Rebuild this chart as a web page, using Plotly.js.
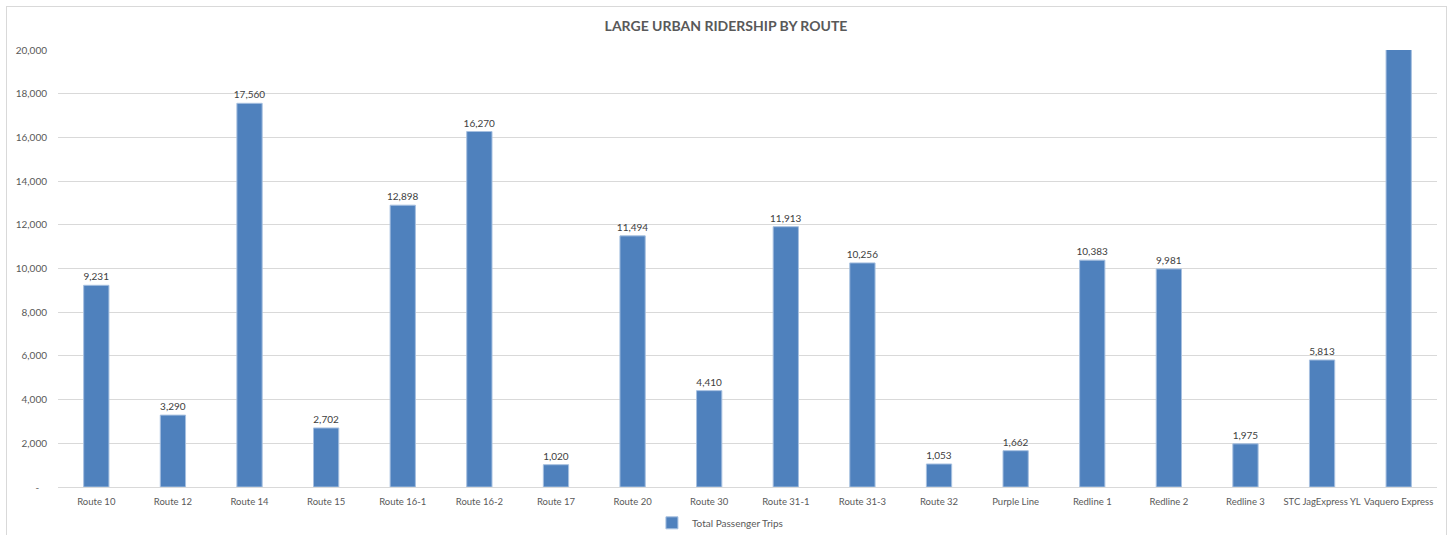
<!DOCTYPE html>
<html>
<head>
<meta charset="utf-8">
<script src="https://cdn.plot.ly/plotly-3.0.1.min.js"></script>
<style>
html,body{margin:0;padding:0;background:#fff;}
#frame{position:absolute;left:6px;top:6px;width:1441px;height:535px;border:1px solid #d9d9d9;box-sizing:border-box;}
#chart{position:absolute;left:0;top:0;width:1452px;height:535px;}
</style>
</head>
<body>
<div id="frame"></div>
<div id="chart"></div>
<script>
const routes = ["Route 10","Route 12","Route 14","Route 15","Route 16-1","Route 16-2","Route 17","Route 20","Route 30","Route 31-1","Route 31-3","Route 32","Purple Line","Redline 1","Redline 2","Redline 3","STC JagExpress YL","Vaquero Express"];
const trips = [9231,3290,17560,2702,12898,16270,1020,11494,4410,11913,10256,1053,1662,10383,9981,1975,5813,24000];
const yTickVals = [0,2000,4000,6000,8000,10000,12000,14000,16000,18000,20000];
const yTickText = ["-\u00a0\u00a0\u00a0","2,000","4,000","6,000","8,000","10,000","12,000","14,000","16,000","18,000","20,000"];
const yMax = 20000;

const labels = trips.map(v => v > yMax ? "" : v.toLocaleString("en-US"));
const FONT = "Lato, Liberation Sans, Arial, sans-serif";

const trace = {
  type: "bar",
  x: routes,
  y: trips,
  name: "Total Passenger Trips",
  text: labels,
  textposition: "outside",
  cliponaxis: true,
  constraintext: "none",
  textfont: {family: FONT, size: 10, color: "#404040"},
  marker: {color: "#4f81bd", line: {color: "#a7c0e0", width: 1}},
  hoverinfo: "x+y"
};

const layout = {
  width: 1452, height: 535,
  margin: {l: 58, r: 15, t: 50, b: 48, autoexpand: false},
  paper_bgcolor: "rgba(0,0,0,0)",
  plot_bgcolor: "rgba(0,0,0,0)",
  font: {family: FONT, size: 10, color: "#595959"},
  title: {text: "<b>LARGE URBAN RIDERSHIP BY ROUTE</b>", x: 0.5, xanchor: "center", y: 1 - 26/535, yanchor: "middle",
          font: {family: FONT, size: 14, color: "#595959"}},
  bargap: 0.67,
  showlegend: true,
  legend: {orientation: "h", x: 0.4307, xanchor: "left", y: -0.082, yanchor: "middle",
           font: {family: FONT, size: 10, color: "#595959"}},
  xaxis: {type: "category", showgrid: false, showline: true, linecolor: "#d9d9d9", linewidth: 1,
          ticks: "", ticklabelstandoff: 6,
          tickfont: {family: FONT, size: 9.5, color: "#595959"},
          tickangle: 0, automargin: false},
  yaxis: {range: [0, yMax], tickvals: yTickVals, ticktext: yTickText, showgrid: true, gridcolor: "#d9d9d9",
          gridwidth: 1, zeroline: false, showline: false, ticks: "", ticklen: 0, ticklabelstandoff: 10,
          tickfont: {family: FONT, size: 10, color: "#595959"}, automargin: false}
};

Plotly.newPlot("chart", [trace], layout, {displayModeBar: false, staticPlot: true});
</script>
</body>
</html>
